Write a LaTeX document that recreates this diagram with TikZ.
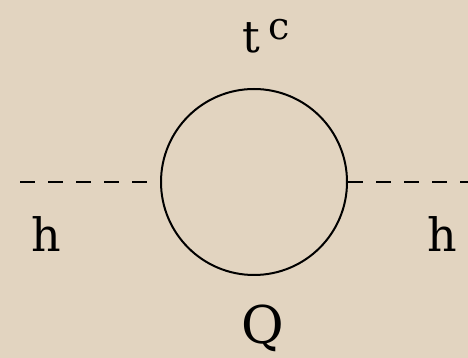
\documentclass[tikz,border=0pt]{standalone}
\usepackage{fontspec}
\newfontfamily\tms{DejaVu Serif}
\definecolor{parch}{RGB}{226,212,192}
\begin{document}
\begin{tikzpicture}[x=1pt,y=1pt,
  loopline/.style={draw=black,line width=2pt,circle,minimum size=186pt,inner sep=0pt},
  scalar/.style={line width=2pt,dash pattern=on 15pt off 13pt},
  lbl/.style={inner sep=0pt,anchor=base}]
\fill[parch] (0,0) rectangle (468,358);
\useasboundingbox (0,0) rectangle (468,358);
\node[loopline] (loop) at (254,176) {};
\coordinate (L) at (20,176);
\coordinate (R) at (470,176);
\draw[scalar] (L) -- (loop.west);
\draw[scalar] (loop.east) -- (R);
\node[lbl,font=\tms\fontsize{44}{44}\selectfont] (t) at (251,305) {t};
\node[lbl,font=\tms\fontsize{38}{38}\selectfont] (c) at (279,318) {c};
\node[lbl,font=\tms\fontsize{46}{46}\selectfont] (hl) at (46,106) {h};
\node[lbl,font=\tms\fontsize{46}{46}\selectfont] (hr) at (442,106) {h};
\node[lbl,font=\tms\fontsize{52}{52}\selectfont] (Q) at (263,14) {Q};
\end{tikzpicture}
\end{document}
